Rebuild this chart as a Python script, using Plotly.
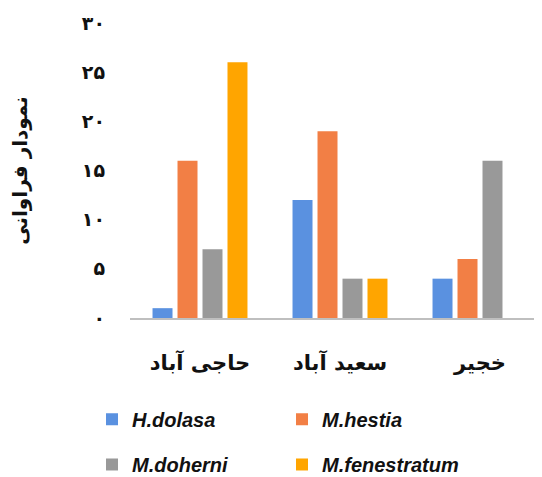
import plotly.graph_objects as go

categories = ["حاجی آباد", "سعید آباد", "خجیر"]
series_names = ["H.dolasa", "M.hestia", "M.doherni", "M.fenestratum"]
h_dolasa = [1, 12, 4]
m_hestia = [16, 19, 6]
m_doherni = [7, 4, 16]
m_fenestratum = [26, 4, 0]
tick_vals = [0, 5, 10, 15, 20, 25, 30]
tick_text = ["۰", "۵", "۱۰", "۱۵", "۲۰", "۲۵", "۳۰"]
y_title = "نمودار فراوانی"

colors = ["#5A91E0", "#F27F45", "#999999", "#FFA500"]
values = [h_dolasa, m_hestia, m_doherni, m_fenestratum]
legends = ["legend", "legend", "legend2", "legend2"]

fig = go.Figure()
for name, vals, col, lg in zip(series_names, values, colors, legends):
    fig.add_trace(go.Bar(
        x=categories, y=vals, name=name,
        marker=dict(color=col, line=dict(width=0)),
        legend=lg,
    ))

legend_font = dict(family="Liberation Sans", size=20, color="#111111",
                   weight="bold", style="italic")
fig.update_layout(
    width=542, height=477,
    margin=dict(l=122, r=0, t=15, b=167, autoexpand=False),
    paper_bgcolor="white", plot_bgcolor="white",
    barmode="group", bargap=0.286, bargroupgap=0.2,
    showlegend=True,
    legend=dict(orientation="h", xref="container", yref="container",
                x=0.155, y=0.138, xanchor="left", yanchor="middle",
                entrywidth=145, font=legend_font, traceorder="normal"),
    legend2=dict(orientation="h", xref="container", yref="container",
                 x=0.155, y=0.043, xanchor="left", yanchor="middle",
                 entrywidth=145, font=legend_font, traceorder="normal"),
    xaxis=dict(type="category", range=[-0.5, 2.5], showgrid=False,
               automargin=False,
               showline=True, linecolor="#BFBFBF", linewidth=2,
               ticks="", tickfont=dict(family="DejaVu Sans", size=21,
                                       color="#111111", weight="bold"),
               ticklabelstandoff=25),
    yaxis=dict(range=[0, 30], tickvals=tick_vals, ticktext=tick_text,
               automargin=False,
               showgrid=False, showline=False, zeroline=False, ticks="",
               tickfont=dict(family="DejaVu Sans", size=19, color="#111111",
                             weight="bold"),
               ticklabelstandoff=24,
               title=dict(text=y_title, standoff=50,
                          font=dict(family="DejaVu Sans", size=20,
                                    color="#111111", weight="bold"))),
)

fig.write_html("out.html")
